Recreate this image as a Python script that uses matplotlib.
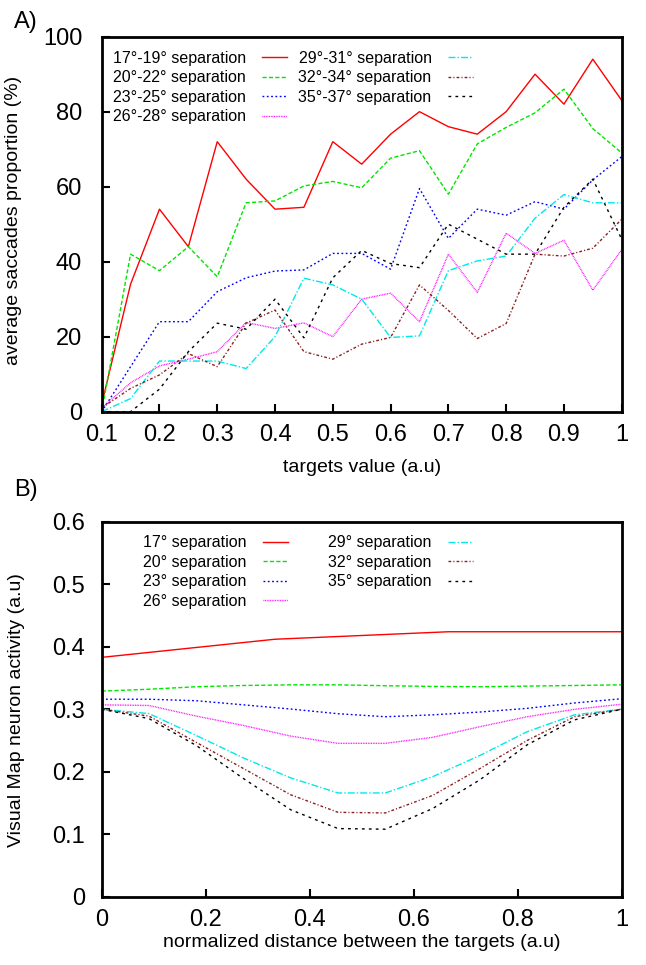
import numpy as np
import matplotlib
matplotlib.use('Agg')
import matplotlib.pyplot as plt
from matplotlib import ticker

plt.rcParams['font.family'] = ['Liberation Sans', 'DejaVu Sans']

# ---------------- panel A : saccade proportion vs target value ----------------
target_value = [0.1, 0.15, 0.2, 0.25, 0.3, 0.35, 0.4, 0.45, 0.5, 0.55,
                0.6, 0.65, 0.7, 0.75, 0.8, 0.85, 0.9, 0.95, 1.0]

sep_17_19 = [2, 34, 54, 44, 72, 62, 54, 54.5, 72, 66, 74, 80, 76, 74, 80, 90, 82, 94, 83]
sep_20_22 = [0, 42, 37.6, 44, 36, 55.7, 56.2, 60.2, 61.4, 59.7, 67.6, 69.6, 58, 71.4, 75.8, 79.7, 86, 75.5, 69]
sep_23_25 = [0, 12, 24, 24, 32, 35.7, 37.5, 37.8, 42.2, 42.2, 38, 59.5, 46.2, 54, 52.4, 56, 54, 61.8, 68]
sep_26_28 = [1, 7.7, 12.2, 14, 16, 23.8, 22.2, 23.7, 20, 30, 31.6, 24, 42, 31.8, 47.6, 42.2, 45.7, 32.4, 43.2]
sep_29_31 = [0, 3.5, 13.5, 13.5, 13.5, 11.5, 20, 35.6, 33.8, 30, 19.8, 20.2, 37.6, 40.2, 41.5, 51.6, 57.9, 55.7, 55.7]
sep_32_34 = [1, 6.2, 9.8, 15.5, 12, 23.6, 27.1, 16, 14, 18, 19.8, 33.8, 27, 19.5, 23.5, 42, 41.5, 43.6, 51.3]
sep_35_37 = [0, 0, 6, 16, 23.6, 22, 30, 19.7, 35.7, 43, 39.5, 38.4, 50, 46, 42, 42, 54.5, 62, 46]

labels_a = ['17°-19° separation', '20°-22° separation', '23°-25° separation',
            '26°-28° separation', '29°-31° separation', '32°-34° separation',
            '35°-37° separation']

# ---------------- panel B : visual map activity profile ----------------
dist_red = [0, 0.333, 0.667, 1]
dist = [0, 1/11, 2/11, 3/11, 4/11, 5/11, 6/11, 7/11, 8/11, 9/11, 10/11, 1]

act_17 = [0.383, 0.412, 0.424, 0.424]
act_20 = [0.329, 0.332, 0.336, 0.338, 0.339, 0.339, 0.3376, 0.3365, 0.336, 0.337, 0.338, 0.339]
act_23 = [0.316, 0.316, 0.3136, 0.307, 0.3003, 0.2928, 0.288, 0.291, 0.2955, 0.3014, 0.310, 0.3168]
act_26 = [0.307, 0.306, 0.289, 0.274, 0.257, 0.2454, 0.2454, 0.255, 0.272, 0.288, 0.2998, 0.308]
act_29 = [0.300, 0.293, 0.258, 0.222, 0.190, 0.166, 0.166, 0.192, 0.226, 0.264, 0.291, 0.300]
act_32 = [0.300, 0.289, 0.247, 0.205, 0.163, 0.135, 0.134, 0.162, 0.205, 0.250, 0.288, 0.300]
act_35 = [0.300, 0.285, 0.242, 0.189, 0.139, 0.109, 0.108, 0.141, 0.187, 0.243, 0.283, 0.300]

labels_b = ['17° separation', '20° separation', '23° separation', '26° separation',
            '29° separation', '32° separation', '35° separation']

# gnuplot-like line types
colors = ['#ff0000', '#00e600', '#0000ff', '#ff00ff', '#00e8e8', '#8b1e1e', '#000000']
dashes = [None, (3, 1.6), (1.3, 1.8), (0.6, 0.6), (5, 1.5, 1, 1.5), (2, 1.5, 0.8, 1.5), (2, 3)]

fsz_tick = 17
fsz_lab = 14
fsz_leg = 11.5


def style_axes(ax, ypad):
    for s in ax.spines.values():
        s.set_linewidth(2)
    ax.tick_params(direction='in', length=6, width=1.5, top=False, right=False,
                   labelsize=fsz_tick)
    ax.tick_params(axis='y', pad=ypad)
    ax.tick_params(axis='x', pad=9)
    ax.xaxis.set_major_formatter(ticker.FormatStrFormatter('%g'))
    ax.yaxis.set_major_formatter(ticker.FormatStrFormatter('%g'))


def draw(ax, x, y, i, label):
    line, = ax.plot(x, y, color=colors[i], lw=1.0, label=label)
    if dashes[i] is not None:
        line.set_dashes(dashes[i])


fig = plt.figure(figsize=(6.46, 9.65), dpi=100)

# ---- A ----
axA = fig.add_axes([0.1574, 0.5734, 0.805, 0.3886])
series_a = [sep_17_19, sep_20_22, sep_23_25, sep_26_28, sep_29_31, sep_32_34, sep_35_37]
for i, ys in enumerate(series_a):
    draw(axA, target_value, ys, i, labels_a[i])
axA.set_xlim(0.1, 1.0)
axA.set_ylim(0, 100)
axA.set_xticks(np.arange(0.1, 1.01, 0.1))
axA.set_yticks(np.arange(0, 101, 20))
style_axes(axA, 14)
axA.set_xlabel('targets value (a.u)', fontsize=fsz_lab)
axA.set_ylabel('average saccades proportion (%)', fontsize=fsz_lab)
axA.xaxis.set_label_coords(0.5, -0.125)
axA.yaxis.set_label_coords(-0.153, 0.51)
axA.legend(ncol=2, markerfirst=False, frameon=False, loc='upper left',
           bbox_to_anchor=(0.021, 0.962), fontsize=fsz_leg, handlelength=1.55,
           handletextpad=1.05, columnspacing=0.7, labelspacing=0.28,
           borderaxespad=0, borderpad=0)

# ---- B ----
axB = fig.add_axes([0.1574, 0.0708, 0.805, 0.3885])
draw(axB, dist_red, act_17, 0, labels_b[0])
series_b = [act_20, act_23, act_26, act_29, act_32, act_35]
for i, ys in enumerate(series_b, start=1):
    draw(axB, dist, ys, i, labels_b[i])
axB.set_xlim(0, 1)
axB.set_ylim(0, 0.6)
axB.set_xticks(np.arange(0, 1.01, 0.2))
axB.set_yticks(np.arange(0, 0.61, 0.1))
style_axes(axB, 12)
axB.set_xlabel('normalized distance between the targets (a.u)', fontsize=fsz_lab)
axB.set_ylabel('Visual Map neuron activity (a.u)', fontsize=fsz_lab)
axB.xaxis.set_label_coords(0.5, -0.1)
axB.yaxis.set_label_coords(-0.148, 0.498)
axB.legend(ncol=2, markerfirst=False, frameon=False, loc='upper left',
           bbox_to_anchor=(0.079, 0.964), fontsize=fsz_leg, handlelength=1.55,
           handletextpad=1.05, columnspacing=2.5, labelspacing=0.28,
           borderaxespad=0, borderpad=0)

fig.text(0.022, 0.977, 'A)', fontsize=17, va='center', ha='left')
fig.text(0.022, 0.492, 'B)', fontsize=17, va='center', ha='left')

fig.savefig('out.png', dpi=100)
